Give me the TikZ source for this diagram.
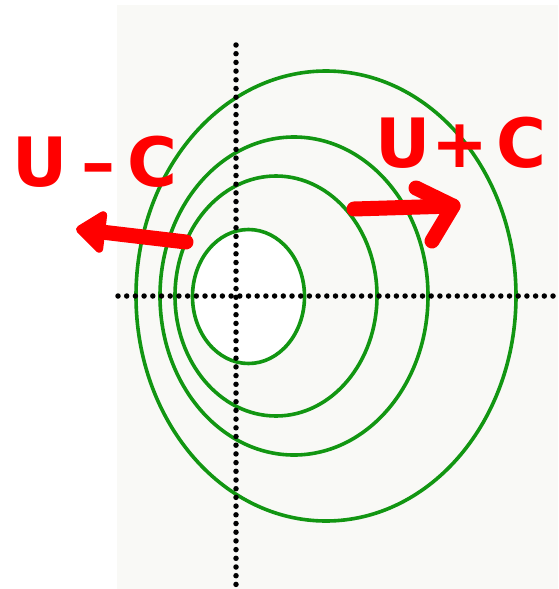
\documentclass[tikz,border=0pt]{standalone}
\usepackage{fontspec}
\setsansfont{DejaVu Sans}
\usetikzlibrary{arrows.meta}
\definecolor{paper}{RGB}{249,249,246}
\definecolor{ring}{RGB}{18,150,18}
\definecolor{ink}{RGB}{255,0,0}
\begin{document}
\begin{tikzpicture}[x=1pt, y=-1pt,
  ring/.style={draw=ring, line width=3.6pt},
  axis/.style={line width=5.5pt, line cap=round, dash pattern=on 0pt off 8.7pt},
  hand/.style={text=ink, font=\sffamily\bfseries\fontsize{68}{68}\selectfont, inner sep=0pt},
  stroke/.style={draw=ink, line width=15pt, line cap=round, line join=round}]
\useasboundingbox (0,0) rectangle (558,589);
\fill[paper] (117,5) rectangle (558,589);

% rings
\draw[ring] (326,296) ellipse [x radius=190, y radius=225];
\draw[ring] (294,296) ellipse [x radius=134, y radius=159];
\draw[ring] (276,296) ellipse [x radius=101, y radius=120];
\draw[ring, fill=white] (248.5,296.5) ellipse [x radius=56, y radius=67];

% axes
\coordinate (top) at (236,45);
\coordinate (bottom) at (236,589);
\coordinate (left) at (118,296);
\coordinate (right) at (558,296);
\draw[axis] (top) -- (bottom);
\draw[axis] (left) -- (right);

% labels
\node[hand] (minus) at (95,162) {U\hspace{14pt}–\hspace{12pt}C};
\node[hand] (plus) at (461,143) {U+\hspace{8pt}C};

% arrows
\coordinate (m0) at (186,242);
\coordinate (m1) at (76,229);
\draw[stroke, -{Triangle[length=32pt, width=48pt, round]}] (m0) -- (m1);
\coordinate (p0) at (354,209);
\coordinate (p1) at (453,206);
\draw[stroke] (p0) -- (p1);
\draw[stroke] (416,188) -- (p1) -- (432,241);
\end{tikzpicture}
\end{document}
